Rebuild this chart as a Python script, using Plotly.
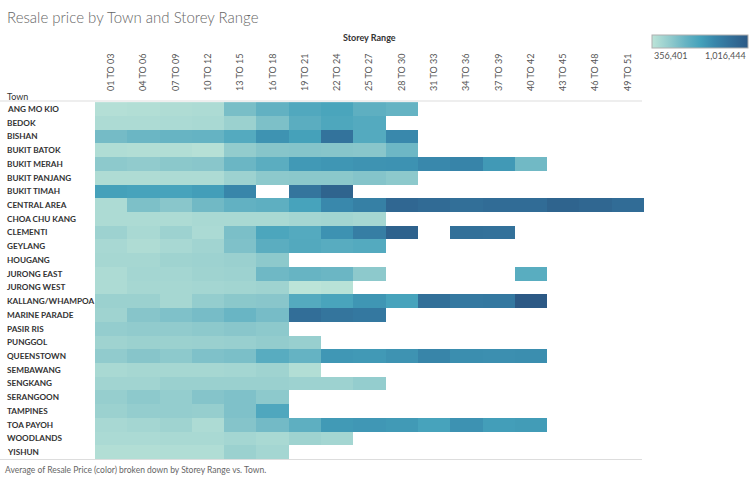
import plotly.graph_objects as go

towns = ["ANG MO KIO", "BEDOK", "BISHAN", "BUKIT BATOK", "BUKIT MERAH", "BUKIT PANJANG",
         "BUKIT TIMAH", "CENTRAL AREA", "CHOA CHU KANG", "CLEMENTI", "GEYLANG", "HOUGANG",
         "JURONG EAST", "JURONG WEST", "KALLANG/WHAMPOA", "MARINE PARADE", "PASIR RIS",
         "PUNGGOL", "QUEENSTOWN", "SEMBAWANG", "SENGKANG", "SERANGOON", "TAMPINES",
         "TOA PAYOH", "WOODLANDS", "YISHUN"]

storey_ranges = ["01 TO 03", "04 TO 06", "07 TO 09", "10 TO 12", "13 TO 15", "16 TO 18",
                 "19 TO 21", "22 TO 24", "25 TO 27", "28 TO 30", "31 TO 33", "34 TO 36",
                 "37 TO 39", "40 TO 42", "43 TO 45", "46 TO 48", "49 TO 51"]

N = None
# Average resale price per town (rows) and storey range (columns)
resale_price = [
    [380000, 385000, 395000, 400000, 540000, 600000, 650000, 670000, 610000, 590000, N, N, N, N, N, N, N],
    [400000, 400000, 405000, 410000, 450000, 530000, 620000, 660000, 640000, N, N, N, N, N, N, N, N],
    [550000, 575000, 585000, 590000, 640000, 740000, 690000, 880000, 640000, 780000, N, N, N, N, N, N, N],
    [390000, 385000, 385000, 375000, 475000, 505000, 510000, 505000, 500000, 570000, N, N, N, N, N, N, N],
    [490000, 480000, 495000, 500000, 575000, 620000, 720000, 730000, 740000, 745000, 780000, 800000, 720000, 560000, N, N, N],
    [395000, 395000, 400000, 400000, 445000, 490000, 495000, 495000, 510000, 490000, N, N, N, N, N, N, N],
    [690000, 680000, 680000, 700000, 790000, N, 870000, 960000, N, N, N, N, N, N, N, N, N],
    [400000, 530000, 500000, 560000, 600000, 610000, 680000, 780000, 820000, 940000, 920000, 900000, 915000, 915000, 960000, 945000, 915000],
    [400000, 400000, 400000, 410000, 410000, 410000, 425000, 430000, 420000, N, N, N, N, N, N, N, N],
    [445000, 410000, 445000, 405000, 535000, 665000, 640000, 745000, 830000, 970000, N, 895000, 890000, N, N, N, N],
    [415000, 395000, 415000, 435000, 525000, 620000, 645000, 630000, 640000, N, N, N, N, N, N, N, N],
    [420000, 420000, 440000, 445000, 455000, 490000, N, N, N, N, N, N, N, N, N, N, N],
    [400000, 425000, 425000, 440000, 445000, 565000, 585000, 575000, 490000, N, N, N, N, 625000, N, N, N],
    [400000, 420000, 420000, 425000, 430000, 440000, 356401, 368000, N, N, N, N, N, N, N, N, N],
    [450000, 450000, 420000, 470000, 495000, 500000, 640000, 675000, 730000, 680000, 895000, 850000, 855000, 1016444, N, N, N],
    [440000, 505000, 525000, 545000, 580000, 545000, 905000, 870000, 855000, N, N, N, N, N, N, N, N],
    [470000, 480000, 480000, 490000, 500000, 490000, N, N, N, N, N, N, N, N, N, N, N],
    [440000, 450000, 450000, 455000, 460000, 475000, 460000, N, N, N, N, N, N, N, N, N, N],
    [480000, 505000, 490000, 525000, 535000, 630000, 590000, 725000, 720000, 740000, 795000, 760000, 755000, 760000, N, N, N],
    [410000, 420000, 420000, 420000, 425000, 440000, 385000, N, N, N, N, N, N, N, N, N, N],
    [435000, 435000, 455000, 455000, 455000, 455000, 445000, 445000, 470000, N, N, N, N, N, N, N, N],
    [465000, 490000, 470000, 510000, 525000, 490000, N, N, N, N, N, N, N, N, N, N, N],
    [450000, 470000, 470000, 465000, 525000, 655000, N, N, N, N, N, N, N, N, N, N, N],
    [415000, 425000, 440000, 400000, 510000, 555000, 610000, 715000, 725000, 715000, 680000, 745000, 700000, 710000, N, N, N],
    [405000, 405000, 410000, 410000, 425000, 410000, 440000, 425000, N, N, N, N, N, N, N, N, N],
    [385000, 385000, 390000, 390000, 450000, 425000, N, N, N, N, N, N, N, N, N, N, N],
]

vals = [v for row in resale_price for v in row if v is not None]
zmin, zmax = min(vals), max(vals)

blue_teal = [
    [0.0, "#bce4d8"],
    [0.2, "#8ec9cc"],
    [0.35, "#66b3c3"],
    [0.5, "#45a2bb"],
    [0.65, "#3887ab"],
    [0.8, "#33729b"],
    [1.0, "#2c5985"],
]

# layout geometry (pixels)
W, H = 750, 478
L, R, T, B = 95, 106, 102, 19
pw = W - L - R
ph = H - T - B


def px_x(x):
    return (x - L) / pw


def px_y(y):
    return (H - B - y) / ph


fig = go.Figure(go.Heatmap(
    z=resale_price, x=storey_ranges, y=towns,
    colorscale=blue_teal, zmin=zmin, zmax=zmax,
    hoverongaps=False,
    colorbar=dict(
        orientation="h", x=px_x(700), xanchor="center", y=px_y(35), yanchor="top",
        lenmode="pixels", len=96, thickness=13, showticklabels=False, ticks="",
        xpad=0, ypad=0, outlinewidth=1, outlinecolor="#b0b0b0",
    ),
))

annotations = []
for t in towns:
    annotations.append(dict(
        x=px_x(5), xref="paper", y=t, yref="y", text="<b>" + t + "</b>",
        showarrow=False, xanchor="left", yanchor="middle",
        font=dict(family="Lato", size=8.2, color="#333333"),
    ))

annotations += [
    dict(x=px_x(5), y=px_y(17), xref="paper", yref="paper", text="Resale price by Town and Storey Range",
         showarrow=False, xanchor="left", yanchor="middle",
         font=dict(family="Lato", size=15, color="#666666", weight=300)),
    dict(x=0.5, y=px_y(38), xref="paper", yref="paper", text="<b>Storey Range</b>",
         showarrow=False, xanchor="center", yanchor="middle",
         font=dict(family="Lato", size=9, color="#333333")),
    dict(x=px_x(5), y=px_y(96), xref="paper", yref="paper", text="Town",
         showarrow=False, xanchor="left", yanchor="middle",
         font=dict(family="Lato", size=9, color="#333333")),
    dict(x=px_x(3), y=px_y(470), xref="paper", yref="paper",
         text="Average of Resale Price (color) broken down by Storey Range vs. Town.",
         showarrow=False, xanchor="left", yanchor="middle",
         font=dict(family="Lato", size=8.5, color="#666666")),
    dict(x=px_x(652), y=px_y(55), xref="paper", yref="paper", text=f"{zmin:,}",
         showarrow=False, xanchor="left", yanchor="middle",
         font=dict(family="Lato", size=9, color="#555555")),
    dict(x=px_x(748), y=px_y(55), xref="paper", yref="paper", text=f"{zmax:,}",
         showarrow=False, xanchor="right", yanchor="middle",
         font=dict(family="Lato", size=9, color="#555555")),
]

shapes = [
    dict(type="line", xref="paper", yref="paper", x0=px_x(0), x1=px_x(642), y0=px_y(101), y1=px_y(101),
         line=dict(color="#dddddd", width=1)),
    dict(type="line", xref="paper", yref="paper", x0=px_x(0), x1=px_x(642), y0=px_y(459.5), y1=px_y(459.5),
         line=dict(color="#dddddd", width=1)),
]

fig.update_layout(
    width=W, height=H,
    margin=dict(l=L, r=R, t=T, b=B, autoexpand=False),
    paper_bgcolor="white", plot_bgcolor="white",
    annotations=annotations, shapes=shapes,
    xaxis=dict(side="top", tickangle=-90, ticks="", showgrid=False, zeroline=False,
               tickfont=dict(family="Lato", size=9, color="#555555"), ticklabelstandoff=10),
    yaxis=dict(autorange="reversed", showticklabels=False, showgrid=False, zeroline=False, ticks=""),
    font=dict(family="Lato"),
)

fig.write_html("out.html", config={"displayModeBar": False},
               post_script="document.body.style.margin='0px';")
